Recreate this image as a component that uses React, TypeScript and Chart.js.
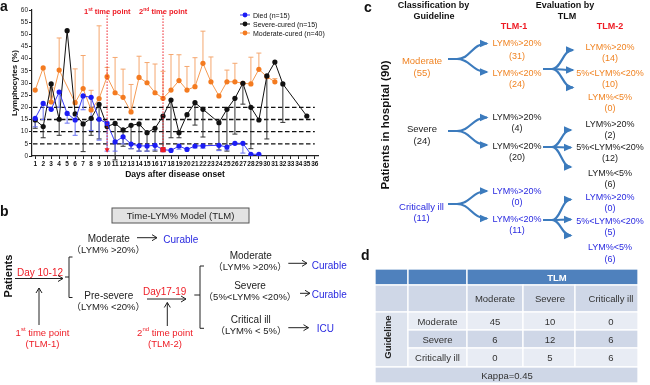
import React, { useEffect, useRef } from "react";
import { Chart, registerables } from "chart.js";
Chart.register(...registerables);

const FONT = "'Liberation Sans', Arial, 'Noto Sans CJK SC', sans-serif";

// ---------- Panel a data ----------
const days = [1, 2, 3, 4, 5, 6, 7, 8, 9, 10, 11, 12, 13, 14, 15, 16, 17, 18, 19, 20, 21, 22, 23, 24, 25, 26, 27, 28, 29, 30, 31, 32, 33, 34, 35, 36];
const yTicks = [0, 5, 10, 15, 20, 25, 30, 35, 40, 45, 50, 55, 60];
const died = [15.5, 21.6, 19.2, 26.3, 17.5, 14.8, 24.7, 24.1, 15.1, 13.4, 5.8, 7.9, 4.9, 4.2, 4.1, 4.4, 2.6, 2.3, 4.1, 2.7, 4.1, 4.2, null, 4.4, 3.7, 5.2, 5.2, 0.7, 0.7, null, null, null, null, null, null, null];
const diedLow = [12, 15, null, 20, 13.5, 8.5, 19, 10.5, 6.5, 2, 2, 5, 3, 2, 2, 2.5, null, null, 2.8, null, 3.3, 3.2, null, 2.2, 2.5, null, 1.2, null, null, null, null, null, null, null, null, null];
const severe = [14.8, 12.1, 29.6, 15.1, 51.5, 17.3, 13.2, 15.5, 21.2, 12.1, 13.4, 10.7, 12.6, 13.2, 9.6, 11.4, 16.4, 23.0, 9.6, 17.0, 21.9, 19.2, null, 13.7, 19.2, 23.7, 29.9, 20.0, 14.8, 32.9, 38.6, 29.6, null, null, 16.4, null];
const severeLow = [11.4, 7.5, 22, 8.5, null, null, 1.8, 8.5, 7, null, -1.6, 4, 3, 2, 2, 2, 2, 7.5, 7.5, null, 12.7, 7.8, null, 2.5, 2, 9, 21.3, 3, null, 7, null, 13.8, null, null, null, null];
const moderate = [27.1, 36.2, 22.2, 35.3, null, 21.9, 27.7, 18.9, 23.6, 32.6, 26.0, 24.1, 18.1, 32.3, 30.1, 26.0, 23.7, 27.1, 31.0, 27.1, 28.5, 38.1, 30.5, 24.7, 30.5, 30.5, 29.9, 29.6, 35.6, 32.6, 30.5, null, null, null, null, null];
const moderateHigh = [null, null, 28, 48.5, null, 35.8, 41.3, 27, 53.5, 36.4, 40.5, 35.7, 29.4, 41, 38.4, 37.8, 34.8, 41.7, 41.6, 36.8, 40.4, 51.3, 40.7, null, 35.3, 38.1, null, 40.6, 42.3, null, 31.8, null, null, null, null, null];
const thresholds = [5, 10, 15, 20];
const timePoints = [10, 17];
const seriesNames = ["Died (n=15)", "Severe-cured (n=15)", "Moderate-cured (n=40)"];
const seriesColors = ["#1c1cf5", "#111111", "#f47b20"];
const lineColors = ["#3a3af5", "#111111", "#f59a52"];
const errColors = ["#6a72f2", "#333333", "#f5a76e"];

// ---------- Panel d data ----------
const tableCols = ["Moderate", "Severe", "Critically ill"];
const tableRows = ["Moderate", "Severe", "Critically ill"];
const tableValues = [[45, 10, 0], [6, 12, 6], [0, 5, 6]];

const errorBarPlugin = {
  id: "errorBars",
  beforeDatasetsDraw(chart: any) {
    const { ctx, scales } = chart;
    const x = scales.x, y = scales.y;
    ctx.save();
    ctx.strokeStyle = "#111";
    ctx.lineWidth = 1.4;
    ctx.setLineDash([4.5, 2.5]);
    thresholds.forEach((t) => {
      const py = y.getPixelForValue(t);
      ctx.beginPath();
      ctx.moveTo(chart.chartArea.left + 1, py);
      ctx.lineTo(x.getPixelForValue(36), py);
      ctx.stroke();
    });
    ctx.setLineDash([]);
    chart.data.datasets.slice().reverse().forEach((ds: any) => {
      const ends = ds.errorEnds;
      if (!ends) return;
      ctx.strokeStyle = ds.errorColor;
      ctx.lineWidth = 1;
      ds.data.forEach((p: any, i: number) => {
        const e = ends[i];
        if (e == null || p.y == null) return;
        const px = x.getPixelForValue(p.x);
        const py = y.getPixelForValue(p.y);
        const pe = y.getPixelForValue(e);
        ctx.beginPath();
        ctx.moveTo(px, py);
        ctx.lineTo(px, pe);
        ctx.moveTo(px - 2.5, pe);
        ctx.lineTo(px + 2.5, pe);
        ctx.stroke();
      });
    });
    ctx.restore();
  },
  afterDatasetsDraw(chart: any) {
    const { ctx, scales } = chart;
    const x = scales.x, y = scales.y;
    ctx.save();
    ctx.strokeStyle = "#ee1c25";
    ctx.fillStyle = "#ee1c25";
    ctx.lineWidth = 1;
    ctx.setLineDash([1.5, 1.5]);
    timePoints.forEach((d) => {
      const px = x.getPixelForValue(d);
      ctx.beginPath();
      ctx.moveTo(px, y.getPixelForValue(59));
      ctx.lineTo(px, y.getPixelForValue(2));
      ctx.stroke();
    });
    ctx.setLineDash([]);
    const p1 = x.getPixelForValue(timePoints[0]);
    const b1 = y.getPixelForValue(1.5);
    ctx.beginPath();
    ctx.moveTo(p1 - 2.5, b1 - 4);
    ctx.lineTo(p1 + 2.5, b1 - 4);
    ctx.lineTo(p1, b1 + 0.5);
    ctx.closePath();
    ctx.fill();
    const p2 = x.getPixelForValue(timePoints[1]);
    const b2 = y.getPixelForValue(died[timePoints[1] - 1] as number);
    ctx.fillRect(p2 - 2.6, b2 - 2.6, 5.2, 5.2);
    ctx.restore();
  },
};

function ChartA() {
  const ref = useRef<HTMLCanvasElement>(null);
  useEffect(() => {
    if (!ref.current) return;
    const mk = (vals: (number | null)[]) => days.map((d, i) => ({ x: d, y: vals[i] ?? null }));
    const sets = [
      { vals: died, ends: diedLow },
      { vals: severe, ends: severeLow },
      { vals: moderate, ends: moderateHigh },
    ];
    const tickFont = { family: FONT, size: 6.5, weight: "bold" as const };
    const chart = new Chart(ref.current, {
      type: "line",
      data: {
        datasets: sets.map((s, k) => ({
          label: seriesNames[k],
          data: mk(s.vals),
          borderColor: lineColors[k],
          backgroundColor: seriesColors[k],
          pointBackgroundColor: seriesColors[k],
          pointBorderWidth: 0,
          pointRadius: 2.6,
          borderWidth: 1,
          spanGaps: true,
          tension: 0,
          errorEnds: s.ends,
          errorColor: errColors[k],
        })) as any,
      },
      options: {
        animation: false,
        responsive: false,
        events: [],
        layout: { padding: { left: 0, top: 10, right: 12, bottom: 0 } },
        plugins: { legend: { display: false }, tooltip: { enabled: false } },
        scales: {
          x: {
            type: "linear",
            min: 0.6,
            max: 36.4,
            afterBuildTicks: (s: any) => {
              s.ticks = days.map((v) => ({ value: v }));
            },
            afterFit: (s: any) => {
              s.height = 26;
            },
            ticks: { autoSkip: false, maxRotation: 0, font: tickFont, color: "#111", padding: 1 },
            grid: { display: true, drawOnChartArea: false, drawTicks: true, tickLength: 3, color: "#222" },
            border: { display: true, color: "#222", width: 1.2 },
            title: { display: true, text: "Days after disease onset", color: "#111", font: { family: FONT, size: 8.5, weight: "bold" }, padding: { top: 0, bottom: 2 } },
          },
          y: {
            min: 0,
            max: 60,
            afterBuildTicks: (s: any) => {
              s.ticks = yTicks.map((v) => ({ value: v }));
            },
            afterFit: (s: any) => {
              s.width = 32;
            },
            ticks: { font: { family: FONT, size: 6.5 }, color: "#222", padding: 1 },
            grid: { display: true, drawOnChartArea: false, drawTicks: true, tickLength: 3, color: "#222" },
            border: { display: true, color: "#222", width: 1.2 },
            title: { display: true, text: "Lymphocytes (%)", color: "#111", font: { family: FONT, size: 8, weight: "bold" }, padding: { top: 10, bottom: 0 } },
          },
        },
      },
      plugins: [errorBarPlugin],
    });
    return () => chart.destroy();
  }, []);
  return <canvas ref={ref} width={330} height={182} style={{ position: "absolute", left: 0, top: 0, width: 330, height: 182 }} />;
}

const T = (p: any) => (
  <text
    x={p.x}
    y={p.y}
    fontSize={p.size ?? 10}
    fill={p.fill ?? "#222"}
    textAnchor={p.anchor ?? "middle"}
    dominantBaseline="central"
    fontWeight={p.weight ?? "normal"}
    transform={p.rotate ? `rotate(${p.rotate} ${p.x} ${p.y})` : undefined}
  >
    {p.children}
  </text>
);

const RED = "#ee1c25";
const BLUE = "#2a2ae0";
const ORANGE = "#f08424";
const ARROW = "#3c7bbd";

function fork(x0: number, y0: number, targets: [number, number][]) {
  const xm = x0 + 9;
  return targets.map(([x1, y1], i) => {
    const dx = x1 - xm;
    const d = `M${x0},${y0} L${xm},${y0} C${xm + dx * 0.45},${y0} ${xm + dx * 0.5},${y1} ${x1},${y1}`;
    return <path key={i} d={d} fill="none" stroke={ARROW} strokeWidth={2.2} markerEnd="url(#blueHead)" />;
  });
}

function Overlay() {
  const legendY = [15, 24, 33];
  const cols = [375, 408, 467, 523, 575, 638];
  const rows = [269, 285, 312, 330, 348, 367, 383];
  const txtCx = [495, 550, 611];
  const cell = (x0: number, x1: number, y0: number, y1: number, fill: string, key: string) => (
    <rect key={key} x={x0} y={y0} width={x1 - x0} height={y1 - y0} fill={fill} stroke="#fff" strokeWidth={1.3} />
  );
  const rowFill = ["#e8ecf4", "#cfd7e7", "#e8ecf4"];
  return (
    <svg width={650} height={385} style={{ position: "absolute", left: 0, top: 0 }} fontFamily={FONT}>
      <defs>
        <marker id="openArrow" markerWidth="8" markerHeight="8" refX="6" refY="4" orient="auto" markerUnits="userSpaceOnUse">
          <path d="M1,1 L6,4 L1,7" fill="none" stroke="#222" strokeWidth="1" />
        </marker>
        <marker id="blueHead" markerWidth="10" markerHeight="10" refX="7" refY="5" orient="auto" markerUnits="userSpaceOnUse">
          <path d="M0,1.2 L8.5,5 L0,8.8 Z" fill={ARROW} />
        </marker>
      </defs>

      {/* ---- panel a overlays ---- */}
      <T x={0} y={6} size={14} weight="bold" anchor="start" fill="#111">a</T>
      {timePoints.map((d, i) => (
        <text key={d} x={[107.3, 163.2][i]} y={11} fontSize={7.5} fontWeight="bold" fill={RED} textAnchor="middle" dominantBaseline="central">
          {i === 0 ? "1" : "2"}
          <tspan fontSize={5} dy={-2.5}>{i === 0 ? "st" : "nd"}</tspan>
          <tspan dy={2.5}> time point</tspan>
        </text>
      ))}
      {seriesNames.map((n, i) => (
        <g key={n}>
          <line x1={240} x2={250} y1={legendY[i]} y2={legendY[i]} stroke={lineColors[i]} strokeWidth={1} />
          <circle cx={245} cy={legendY[i]} r={2.4} fill={seriesColors[i]} />
          <T x={253} y={legendY[i]} size={7} anchor="start" fill="#111">{n}</T>
        </g>
      ))}

      {/* ---- panel b ---- */}
      <T x={0} y={211} size={14} weight="bold" anchor="start" fill="#111">b</T>
      <rect x={112} y={208} width={137} height={15} fill="#e3e3e3" stroke="#555" strokeWidth={1} />
      <T x={180.5} y={215.5} size={9.5}>Time-LYM% Model (TLM)</T>
      <T x={8} y={276} size={11} weight="bold" rotate={-90} fill="#111">Patients</T>
      <T x={40} y={272} size={10} fill={RED}>Day 10-12</T>
      <line x1={15} y1={278.5} x2={63} y2={278.5} stroke="#222" strokeWidth={1} markerEnd="url(#openArrow)" />
      <line x1={39} y1={325} x2={39} y2={288} stroke="#222" strokeWidth={1} markerEnd="url(#openArrow)" />
      <text x={42.5} y={332} fontSize={9.5} fill={RED} textAnchor="middle" dominantBaseline="central">
        1<tspan fontSize={6} dy={-3}>st</tspan><tspan dy={3}> time point</tspan>
      </text>
      <T x={42.5} y={343.5} size={9.5} fill={RED}>(TLM-1)</T>
      <path d="M65,277 L69,277 M72.5,257 L69,257 L69,297.5 L72.5,297.5" fill="none" stroke="#222" strokeWidth={1} />
      <T x={108.8} y={238.3} size={10}>Moderate</T>
      <T x={108.3} y={249.5} size={9.5}>（LYM% &gt;20%）</T>
      <line x1={137} y1={237.7} x2={157} y2={237.7} stroke="#222" strokeWidth={1} markerEnd="url(#openArrow)" />
      <T x={163.3} y={239.3} size={10} fill={BLUE} anchor="start">Curable</T>
      <T x={108.8} y={295} size={10}>Pre-severe</T>
      <T x={108.3} y={306.7} size={9.5}>（LYM% &lt;20%）</T>
      <T x={164.7} y={291.7} size={10} fill={RED}>Day17-19</T>
      <line x1={147} y1={299} x2={186} y2={299} stroke="#222" strokeWidth={1} markerEnd="url(#openArrow)" />
      <line x1={167.3} y1={326} x2={167.3} y2={302.5} stroke="#222" strokeWidth={1} markerEnd="url(#openArrow)" />
      <text x={165} y={332} fontSize={9.5} fill={RED} textAnchor="middle" dominantBaseline="central">
        2<tspan fontSize={6} dy={-3}>nd</tspan><tspan dy={3}> time point</tspan>
      </text>
      <T x={165} y={343.5} size={9.5} fill={RED}>(TLM-2)</T>
      <path d="M194.3,295 L200,295 M204,266 L200,266 L200,328.3 L204,328.3" fill="none" stroke="#222" strokeWidth={1} />
      <T x={250.8} y={255.7} size={10}>Moderate</T>
      <T x={250} y={266.7} size={9.5}>（LYM% &gt;20%）</T>
      <line x1={288.3} y1={263.3} x2={307} y2={263.3} stroke="#222" strokeWidth={1} markerEnd="url(#openArrow)" />
      <T x={311.7} y={265} size={10} fill={BLUE} anchor="start">Curable</T>
      <T x={250} y={285} size={10}>Severe</T>
      <T x={250} y={296.5} size={9.5}>（5%&lt;LYM% &lt;20%）</T>
      <line x1={300} y1={293.3} x2={310} y2={293.3} stroke="#222" strokeWidth={1} markerEnd="url(#openArrow)" />
      <T x={311.7} y={294.5} size={10} fill={BLUE} anchor="start">Curable</T>
      <T x={250.8} y={319} size={10}>Critical ill</T>
      <T x={251} y={330} size={9.5}>（LYM% &lt; 5%）</T>
      <line x1={288.3} y1={327.7} x2={308.5} y2={327.7} stroke="#222" strokeWidth={1} markerEnd="url(#openArrow)" />
      <T x={316.7} y={328.5} size={10} fill={BLUE} anchor="start">ICU</T>

      {/* ---- panel c ---- */}
      <T x={364} y={7} size={14} weight="bold" anchor="start" fill="#111">c</T>
      <T x={433.5} y={5} size={9} weight="bold" fill="#111">Classification by</T>
      <T x={434} y={15.5} size={9} weight="bold" fill="#111">Guideline</T>
      <T x={565} y={5} size={9} weight="bold" fill="#111">Evaluation by</T>
      <T x={567} y={15.5} size={9} weight="bold" fill="#111">TLM</T>
      <T x={514} y={25.5} size={9} weight="bold" fill={RED}>TLM-1</T>
      <T x={610} y={25.5} size={9} weight="bold" fill={RED}>TLM-2</T>
      <T x={385} y={125} size={11.5} weight="bold" rotate={-90} fill="#111">Patients in hospital (90)</T>

      {fork(448, 59, [[487, 43.5], [487, 72]])}
      {fork(543, 69, [[573, 50], [573, 70], [573, 87.5]])}
      {fork(448, 131, [[487, 117.5], [487, 145]])}
      {fork(543, 147, [[571, 130], [571, 147.5], [571, 167]])}
      {fork(448, 204, [[487, 191], [487, 218.5]])}
      {fork(543, 220, [[571, 199.5], [571, 219.5], [571, 235.5]])}

      <T x={422} y={60.7} size={9.5} fill={ORANGE}>Moderate</T>
      <T x={422} y={72} size={9.5} fill={ORANGE}>(55)</T>
      <T x={517} y={43.3} size={9} fill={ORANGE}>LYM%&gt;20%</T>
      <T x={517} y={56} size={9} fill={ORANGE}>(31)</T>
      <T x={517} y={72.7} size={9} fill={ORANGE}>LYM%&lt;20%</T>
      <T x={517} y={84} size={9} fill={ORANGE}>(24)</T>
      <T x={610} y={46.7} size={9} fill={ORANGE}>LYM%&gt;20%</T>
      <T x={610} y={58.3} size={9} fill={ORANGE}>(14)</T>
      <T x={610} y={72.7} size={9} fill={ORANGE}>5%&lt;LYM%&lt;20%</T>
      <T x={610} y={84} size={9} fill={ORANGE}>(10)</T>
      <T x={610} y={96.7} size={9} fill={ORANGE}>LYM%&lt;5%</T>
      <T x={610} y={108.3} size={9} fill={ORANGE}>(0)</T>

      <T x={422} y={128.3} size={9.5}>Severe</T>
      <T x={422} y={140} size={9.5}>(24)</T>
      <T x={517} y={117.3} size={9}>LYM%&gt;20%</T>
      <T x={517} y={128.3} size={9}>(4)</T>
      <T x={517} y={146} size={9}>LYM%&lt;20%</T>
      <T x={517} y={157.3} size={9}>(20)</T>
      <T x={610} y={124} size={9}>LYM%&gt;20%</T>
      <T x={610} y={135} size={9}>(2)</T>
      <T x={610} y={146.7} size={9}>5%&lt;LYM%&lt;20%</T>
      <T x={610} y={158.3} size={9}>(12)</T>
      <T x={610} y={173.3} size={9}>LYM%&lt;5%</T>
      <T x={610} y={184} size={9}>(6)</T>

      <T x={421.5} y={206} size={9.5} fill={BLUE}>Critically ill</T>
      <T x={421.5} y={217.3} size={9.5} fill={BLUE}>(11)</T>
      <T x={517} y={190.7} size={9} fill={BLUE}>LYM%&gt;20%</T>
      <T x={517} y={202.3} size={9} fill={BLUE}>(0)</T>
      <T x={517} y={219.3} size={9} fill={BLUE}>LYM%&lt;20%</T>
      <T x={517} y={230} size={9} fill={BLUE}>(11)</T>
      <T x={610} y={197.3} size={9} fill={BLUE}>LYM%&gt;20%</T>
      <T x={610} y={208.3} size={9} fill={BLUE}>(0)</T>
      <T x={610} y={220.7} size={9} fill={BLUE}>5%&lt;LYM%&lt;20%</T>
      <T x={610} y={231.7} size={9} fill={BLUE}>(5)</T>
      <T x={610} y={247.3} size={9} fill={BLUE}>LYM%&lt;5%</T>
      <T x={610} y={259} size={9} fill={BLUE}>(6)</T>

      {/* ---- panel d ---- */}
      <T x={361} y={255} size={14} weight="bold" anchor="start" fill="#111">d</T>
      {cell(cols[0], cols[1], rows[0], rows[1], "#4f81bd", "h0")}
      {cell(cols[1], cols[2], rows[0], rows[1], "#4f81bd", "h1")}
      {cell(cols[2], cols[5], rows[0], rows[1], "#4f81bd", "h2")}
      <T x={557} y={277.5} size={9.5} weight="bold" fill="#fff">TLM</T>
      {[0, 1, 2, 3, 4].map((c) => cell(cols[c], cols[c + 1], rows[1], rows[2], "#cfd7e7", "s" + c))}
      {tableCols.map((t, c) => (
        <T key={"ct" + c} x={txtCx[c]} y={298.5} size={9.5} fill="#333">{t}</T>
      ))}
      {cell(cols[0], cols[1], rows[2], rows[5], "#dde3ee", "g")}
      <T x={387} y={337} size={9.5} weight="bold" rotate={-90} fill="#222">Guideline</T>
      {tableRows.map((r, ri) => (
        <g key={"r" + ri}>
          {[1, 2, 3, 4].map((c) => cell(cols[c], cols[c + 1], rows[ri + 2], rows[ri + 3], rowFill[ri], `c${ri}${c}`))}
          <T x={437.5} y={(rows[ri + 2] + rows[ri + 3]) / 2} size={9.5} fill="#333">{r}</T>
          {tableValues[ri].map((v, c) => (
            <T key={"v" + c} x={txtCx[c]} y={(rows[ri + 2] + rows[ri + 3]) / 2} size={9.5} fill="#333">{v}</T>
          ))}
        </g>
      ))}
      {cell(cols[0], cols[5], rows[5], rows[6], "#cfd7e7", "k")}
      <T x={507} y={375} size={9.5} fill="#333">Kappa=0.45</T>
    </svg>
  );
}

export default function App() {
  return (
    <div style={{ position: "fixed", left: 0, top: 0, width: 650, height: 385, background: "#fff", overflow: "hidden" }}>
      <ChartA />
      <Overlay />
    </div>
  );
}
